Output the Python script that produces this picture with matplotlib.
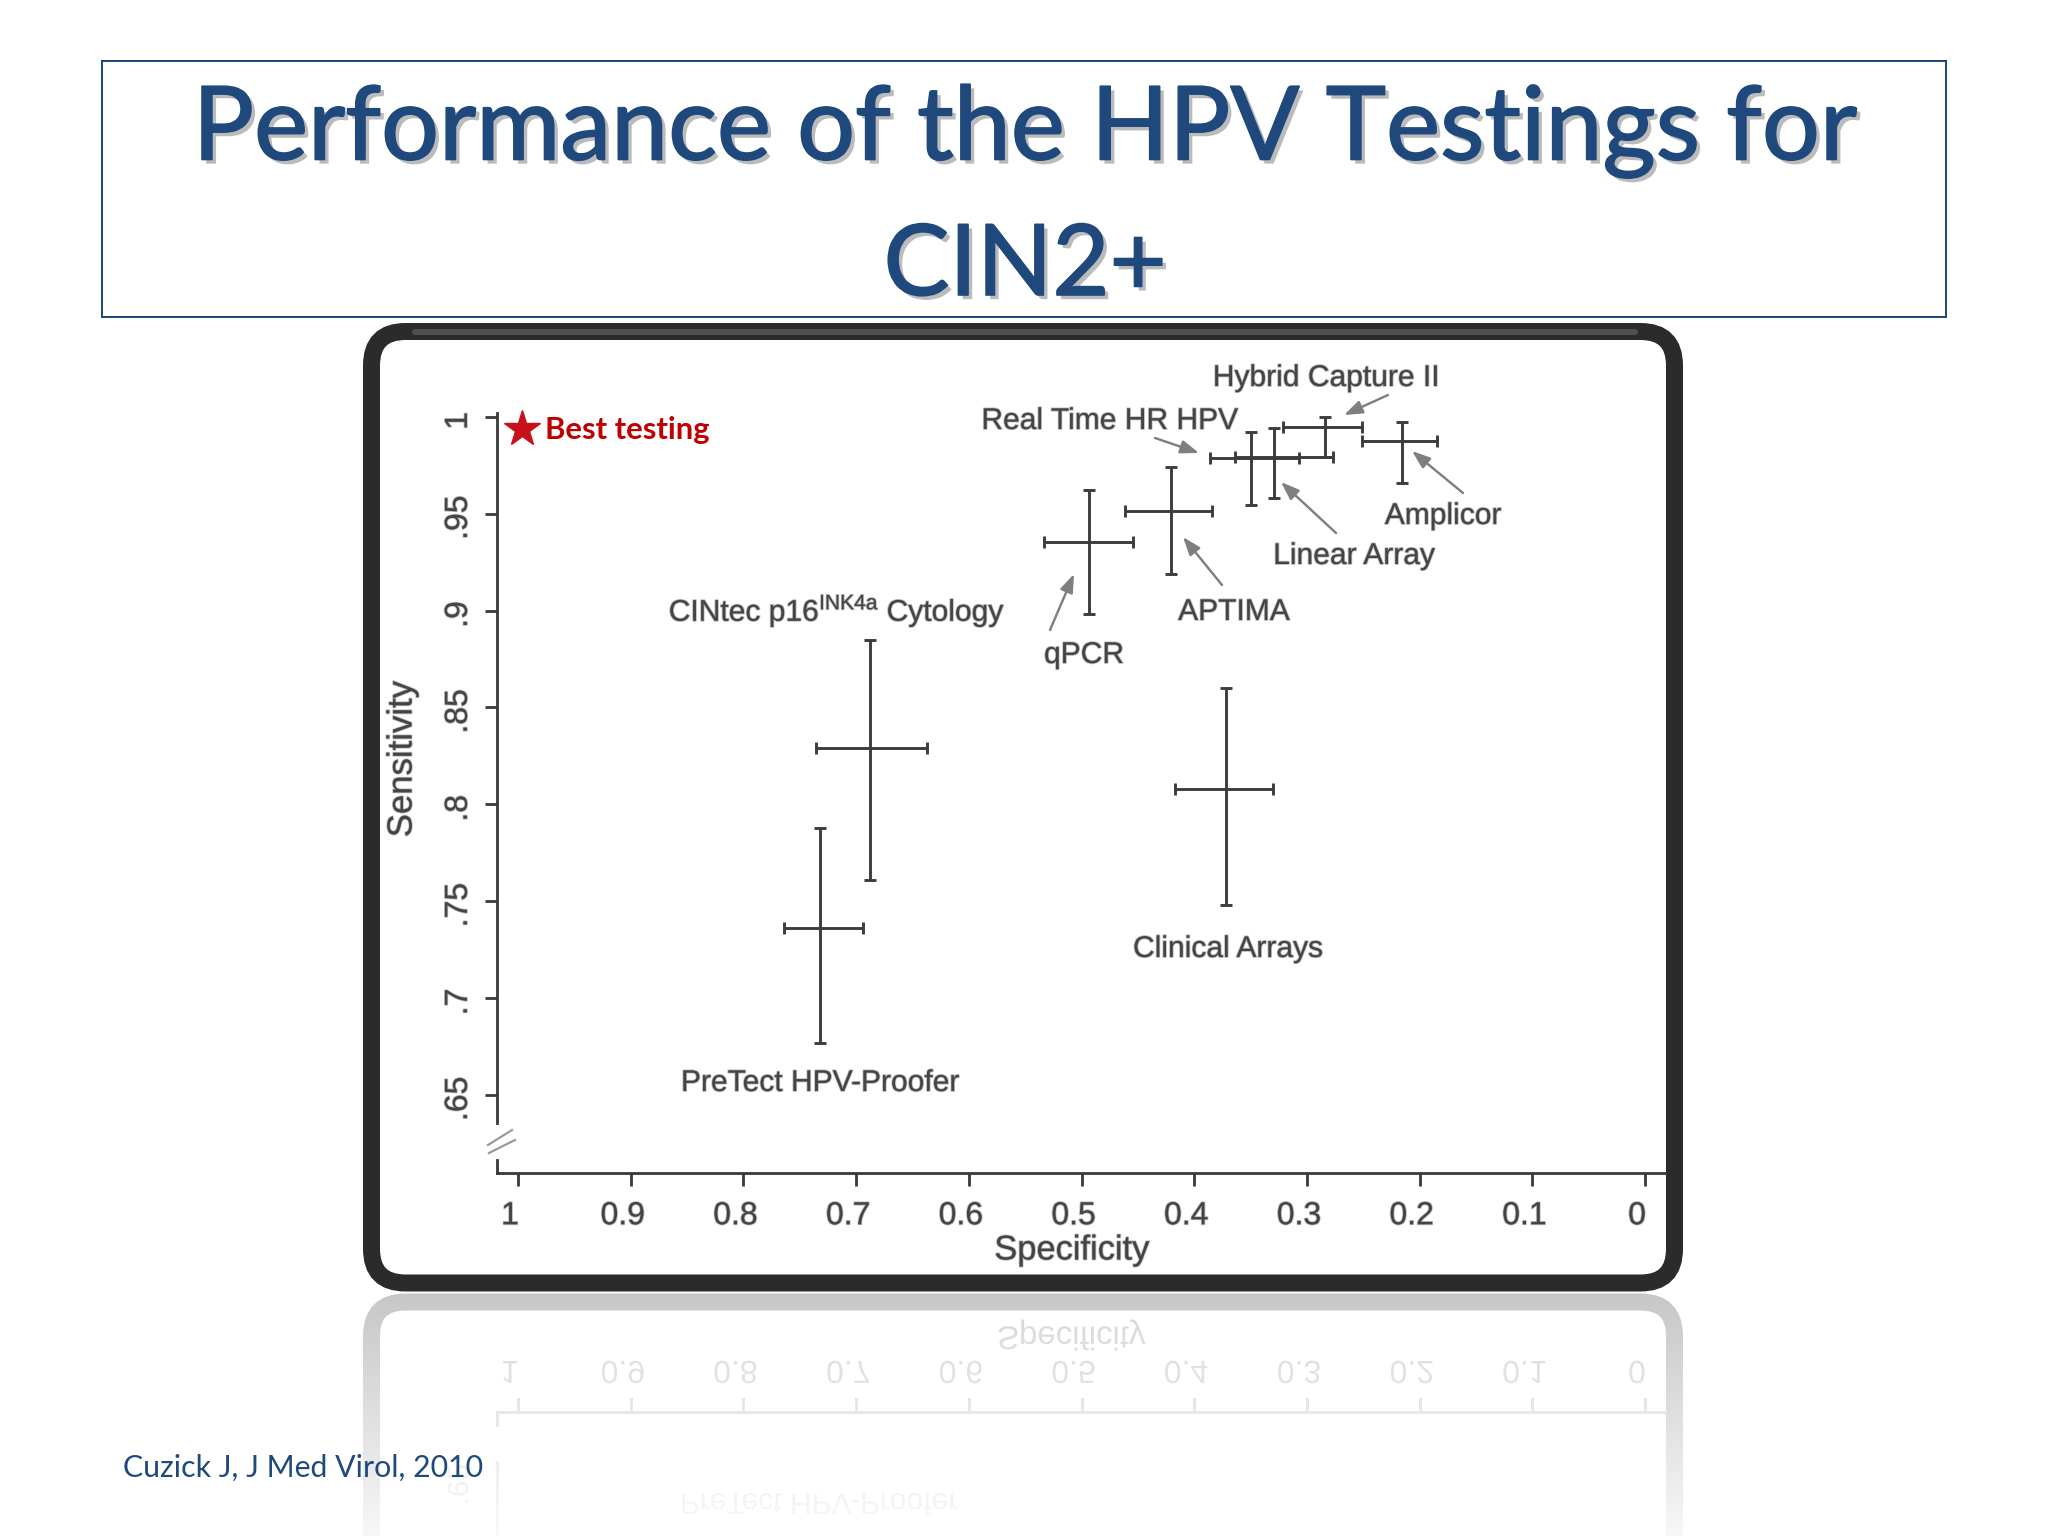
import numpy as np
import matplotlib
matplotlib.use("Agg")
import matplotlib.pyplot as plt
from matplotlib.patches import FancyBboxPatch, Rectangle, PathPatch
from matplotlib.textpath import TextPath
from matplotlib.font_manager import FontProperties
from matplotlib.transforms import ScaledTranslation, Affine2D
import matplotlib.patheffects as pe

# ---------- data ----------
tests = ["Hybrid Capture II", "Amplicor", "Real Time HR HPV", "Linear Array", "APTIMA",
         "qPCR", "CINtec p16", "PreTect HPV-Proofer", "Clinical Arrays"]
spec = [0.284, 0.216, 0.350, 0.329, 0.421, 0.493, 0.688, 0.732, 0.372]
spec_hi = [0.321, 0.251, 0.386, 0.364, 0.461, 0.533, 0.736, 0.764, 0.417]
spec_lo = [0.251, 0.185, 0.307, 0.277, 0.384, 0.454, 0.637, 0.694, 0.330]
sens = [0.995, 0.9876, 0.979, 0.9795, 0.9515, 0.9355, 0.829, 0.736, 0.808]
sens_hi = [1.0, 0.9976, 0.992, 0.994, 0.974, 0.962, 0.885, 0.788, 0.860]
sens_lo = [0.9795, 0.966, 0.9546, 0.958, 0.919, 0.898, 0.761, 0.677, 0.748]
x_ticks = [1, 0.9, 0.8, 0.7, 0.6, 0.5, 0.4, 0.3, 0.2, 0.1, 0]
x_tick_labels = ["1", "0.9", "0.8", "0.7", "0.6", "0.5", "0.4", "0.3", "0.2", "0.1", "0"]
y_ticks = [1, 0.95, 0.9, 0.85, 0.8, 0.75, 0.7, 0.65]
y_tick_labels = ["1", ".95", ".9", ".85", ".8", ".75", ".7", ".65"]
title_lines = ["Performance of the HPV Testings for", "CIN2+"]
source = "Cuzick J, J Med Virol, 2010"

plt.rcParams['mathtext.fontset'] = 'custom'
plt.rcParams['mathtext.rm'] = 'Liberation Sans'
plt.rcParams['font.family'] = ['Liberation Sans', 'DejaVu Sans']

W, H = 2048, 1536
BLUE = "#1F497D"
TXT = "#444444"
fig = plt.figure(figsize=(W / 100, H / 100), dpi=100, facecolor="white")
px = 0.72
soft = [pe.withStroke(linewidth=1.3, foreground="#8a8a8a", alpha=0.55)]

bg = fig.add_axes([0, 0, 1, 1], zorder=0)
bg.set_xlim(0, W)
bg.set_ylim(H, 0)
bg.axis("off")

# title box
bg.add_patch(Rectangle((102, 61), 1844, 256, fill=False, ec=BLUE, lw=2 * px, zorder=3))
shadow = [pe.withSimplePatchShadow(offset=(3, -3), shadow_rgbFace="#555555", alpha=0.4),
          pe.withStroke(linewidth=1.2, foreground=BLUE)]
for line, xc, yc, fs in zip(title_lines, [1025, 1025], [131, 267], [73.6, 71]):
    bg.text(xc, yc, line, ha="center", va="center", fontsize=fs, color=BLUE,
            family="Lato", path_effects=shadow, zorder=3)

# frame
def frame(y0, y1, color, z):
    bg.add_patch(FancyBboxPatch((371.5 + 32, y0 + 32), 1303 - 64, (y1 - y0) - 64,
                                boxstyle="round,pad=32,rounding_size=34", fc="none",
                                ec=color, lw=17 * px, zorder=z, mutation_aspect=1))

MIRROR = 2585
frame(331.5, 1283, "#2b2b2d", 3)
bg.plot([415, 1635], [332, 332], color="#505052", lw=6 * px, zorder=3.1, solid_capstyle="round")
bg.add_patch(Rectangle((380, 340), 1286, 935, fc="white", ec="none", zorder=2.9))

# reflection (mirrored about the frame's lower edge)
frame(MIRROR - 1283, MIRROR - 331.5, "#2b2b2d", 1)
x_of = lambda v: 518 + (1 - v) * 1127
ym = lambda y: MIRROR - y
REF = "#666666"
bg.plot([497, 1665], [ym(1173)] * 2, color=REF, lw=3 * px, zorder=1)
bg.plot([497, 497], [ym(1173), ym(1160)], color=REF, lw=3 * px, zorder=1)
bg.plot([497, 497], [ym(1123), H + 20], color=REF, lw=3 * px, zorder=1)
for v in x_ticks:
    bg.plot([x_of(v)] * 2, [ym(1173), ym(1186)], color=REF, lw=3 * px, zorder=1)
fp = FontProperties(family="Liberation Sans")

def mirrored(s, xc, yc, size, rotate=False):
    tp = TextPath((0, 0), s, size=size, prop=fp)
    bb = tp.get_extents()
    tr = Affine2D().translate(-(bb.x0 + bb.x1) / 2, -(bb.y0 + bb.y1) / 2)
    if rotate:
        tr = tr.rotate_deg(90).scale(1, -1)
    tr = tr.translate(xc, yc)
    bg.add_patch(PathPatch(tp, transform=tr + bg.transData, fc=REF, ec="none", zorder=1))

for v, s in zip(x_ticks, x_tick_labels):
    mirrored(s, x_of(v) - 8, ym(1213), 32)
mirrored("Specificity", 1072, ym(1250), 33)
mirrored("PreTect HPV-Proofer", 820, ym(1081), 30)
mirrored(".65", 458, ym(1101), 30, rotate=True)

grad = np.ones((256, 2, 4))
grad[..., 3] = np.linspace(0.74, 0.97, 256)[:, None]
bg.imshow(grad, extent=[0, W, H, 1293], aspect="auto", zorder=2, interpolation="bilinear")
bg.set_xlim(0, W)
bg.set_ylim(H, 0)

# chart axes
ax = fig.add_axes([497 / W, 1 - 1173 / H, 1168 / W, 760 / H], zorder=2)
ax.patch.set_alpha(0)
ax.set_xlim(1.0186, -0.0177)
ax.set_ylim(0.6097, 1.002)
LINE = "#3a3a3a"
for s in ["top", "right"]:
    ax.spines[s].set_visible(False)
for s in ["left", "bottom"]:
    ax.spines[s].set_color(LINE)
    ax.spines[s].set_linewidth(2.8 * px)
ax.spines["left"].set_bounds(0.6355, 1.002)
ax.plot([1.0186, 1.0186], [0.6097, 0.6165], color=LINE, lw=2.8 * px, clip_on=False)

ax.set_xticks(x_ticks, x_tick_labels)
ax.set_yticks(y_ticks, y_tick_labels)
ax.tick_params(axis="x", length=13 * px, width=2.8 * px, color=LINE, pad=11,
               labelsize=23, labelcolor=TXT)
ax.tick_params(axis="y", length=12 * px, width=2.8 * px, color=LINE, pad=8,
               labelsize=23, labelcolor=TXT)
off_x = ScaledTranslation(-8 / 100, 0, fig.dpi_scale_trans)
off_y = ScaledTranslation(0, -4 / 100, fig.dpi_scale_trans)
for lab in ax.get_xticklabels():
    lab.set_transform(lab.get_transform() + off_x)
    lab.set_path_effects(soft)
for lab in ax.get_yticklabels():
    lab.set_rotation(90)
    lab.set_va("center")
    lab.set_transform(lab.get_transform() + off_y)
    lab.set_path_effects(soft)

spec_a, sens_a = np.array(spec), np.array(sens)
ax.errorbar(spec_a, sens_a,
            xerr=[spec_a - np.array(spec_lo), np.array(spec_hi) - spec_a],
            yerr=[sens_a - np.array(sens_lo), np.array(sens_hi) - sens_a],
            fmt="none", ecolor="#3c3c3c", elinewidth=2.9 * px, capsize=4.2,
            capthick=2.9 * px, clip_on=False)

# overlay for labels, in slide pixels
top = fig.add_axes([0, 0, 1, 1], zorder=3)
top.set_xlim(0, W)
top.set_ylim(H, 0)
top.axis("off")
labels = [("Hybrid Capture II", 1326, 378), ("Real Time HR HPV", 1110, 421),
          ("Amplicor", 1443, 516), ("Linear Array", 1354, 556), ("APTIMA", 1234, 612),
          ("qPCR", 1084, 655), ("CINtec p16$^{\\mathrm{INK4a}}$ Cytology", 837, 611),
          ("Clinical Arrays", 1228, 949), ("PreTect HPV-Proofer", 820, 1083)]
for s, xc, yc in labels:
    top.text(xc, yc, s, ha="center", va="center", fontsize=21.6, color=TXT, path_effects=soft)
top.text(1072, 1251, "Specificity", ha="center", va="center", fontsize=24.8, color=TXT, path_effects=soft)
top.text(402, 759, "Sensitivity", ha="center", va="center", rotation=90, fontsize=25, color=TXT, path_effects=soft)

arrows = [((1388, 395), (1344, 415)), ((1155, 438), (1199, 453)), ((1336, 533), (1281, 482)),
          ((1463, 493), (1412, 451)), ((1222, 585), (1183, 537)), ((1050, 630), (1074, 574))]
for a, b in arrows:
    top.annotate("", xy=b, xytext=a, arrowprops=dict(arrowstyle="-|>,head_length=0.55,head_width=0.2",
                 mutation_scale=20, color="#7f7f7f", lw=2.4 * px, shrinkA=0, shrinkB=0))

# axis break marks
for a, b in [((488, 1145), (512, 1130)), ((489, 1153), (515, 1140))]:
    top.plot([a[0], b[0]], [a[1], b[1]], color="#999999", lw=2.2 * px)

# best testing annotation
top.plot([522], [429], marker="*", ms=27, color="#C8101A", mec="#C8101A", ls="none")
top.text(545, 430, "Best testing", ha="left", va="center", fontsize=22.3, fontweight="bold",
         color="#C00000", family="Lato")
top.text(123, 1468, source, ha="left", va="center", fontsize=21.8, color=BLUE, family="Lato")

fig.savefig("out.png", dpi=100)
